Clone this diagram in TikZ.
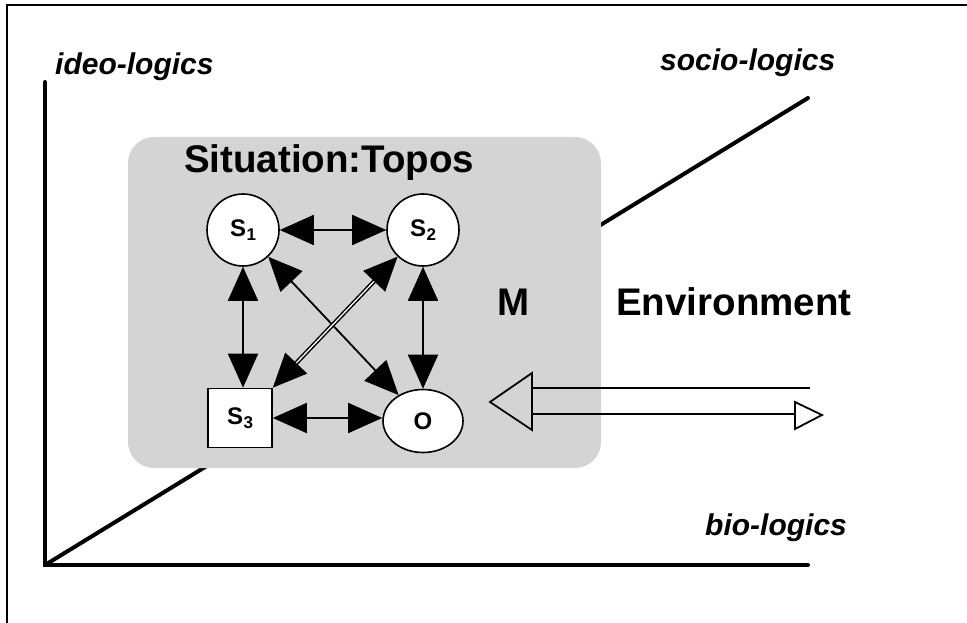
\documentclass[tikz,border=0pt]{standalone}
\usepackage{fontspec}
\setmainfont{Liberation Sans}
\usetikzlibrary{arrows.meta,shapes.geometric}
\definecolor{boxgray}{RGB}{212,212,212}
% letter with a lowered index, as in S1
\newcommand{\idxlbl}[2]{#1\kern0.5pt\raisebox{-4pt}{\fontsize{17}{17}\selectfont #2}}

\begin{document}
\begin{tikzpicture}[x=1pt,y=-1pt,
  >={Triangle[length=34pt,width=30pt]},
  frameline/.style={line width=1.8pt},
  axis/.style={line width=4pt,line cap=round},
  axislabel/.style={anchor=base west,inner sep=0pt,font=\fontsize{30}{30}\selectfont\bfseries\itshape},
  bigtext/.style={anchor=base west,inner sep=0pt,font=\fontsize{38.5}{38.5}\selectfont\bfseries},
  topos/.style={draw=none,fill=boxgray,rounded corners=26pt},
  ent/.style={draw,line width=1.6pt,fill=white,inner sep=0pt,font=\fontsize{24}{24}\selectfont\bfseries},
  circ/.style={ent,circle,minimum size=72pt},
  sq/.style={ent,rectangle,minimum width=64pt,minimum height=59pt},
  ell/.style={ent,ellipse,minimum width=80pt,minimum height=63pt},
  link/.style={line width=1.8pt,<->},
  dbllink/.style={link,double,double distance=1.3pt,line width=1.5pt},
  flow/.style={line width=1.8pt,line join=miter}
]
\useasboundingbox (0,0) rectangle (967,623);

% page frame
\draw[frameline] (7,623) -- (7,5) -- (967,5);

% axes
\coordinate (orig) at (45,565);
\coordinate (ytop) at (45,82);
\coordinate (xend) at (808,565);
\coordinate (zend) at (808,98);
\draw[axis] (orig) -- (zend);

% situation box
\fill[topos] (128,137) rectangle (601,468);

\draw[axis] (ytop) -- (orig) -- (xend);

\node[axislabel] (ideo) at (55,75) {ideo-logics};
\node[axislabel] (socio) at (660,71) {socio-logics};
\node[axislabel] (bio) at (705,535) {bio-logics};

\node[bigtext] (title) at (184,173) {Situation:Topos};
\node[bigtext] (m) at (497,315) {M};
\node[bigtext] (env) at (616,315) {Environment};

% entities
\node[circ] (s1) at (243,230) {\idxlbl{S}{1}};
\node[circ] (s2) at (423,230) {\idxlbl{S}{2}};
\node[sq]   (s3) at (240,418) {\idxlbl{S}{3}};
\node[ell]  (o)  at (423,421) {O};

% relations
\draw[link] (s1.east) -- (s2.west);
\draw[link] (s1.south) -- (s1.south |- s3.north);
\draw[link] (s2.south) -- (o.north);
\draw[link] (s3.east) -- (s3.east -| o.west);
\draw[link] (s1) -- (o);
\draw[dbllink] (s2) -- (s3.north east);

% exchange with the environment
\coordinate (lt) at (490,402);
\coordinate (lb1) at (532,373);
\coordinate (lb2) at (532,430);
\coordinate (rt) at (822,415);
\coordinate (rb1) at (795,402);
\coordinate (rb2) at (795,429);
\draw[flow] (lt) -- (lb1) -- (lb2) -- cycle;
\draw[flow] (532,388) -- (810,388);
\draw[flow] (532,414) -- (795,414);
\draw[flow,fill=white] (rt) -- (rb1) -- (rb2) -- cycle;
\end{tikzpicture}
\end{document}
